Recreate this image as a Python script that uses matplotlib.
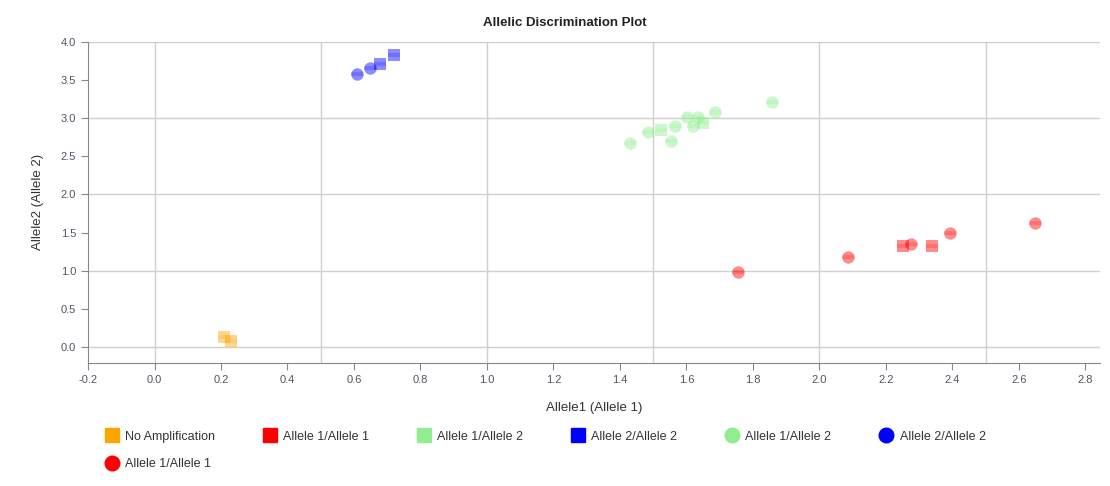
import matplotlib.pyplot as plt
from matplotlib.lines import Line2D
from matplotlib.ticker import MultipleLocator

plt.rcParams['font.family'] = ['Liberation Sans', 'DejaVu Sans']

# 蛍光値 (Allele1, Allele2)
no_amp_x = [0.21, 0.23]
no_amp_y = [0.13, 0.08]

a11_sq_x = [2.25, 2.34]
a11_sq_y = [1.32, 1.32]
a11_ci_x = [1.755, 2.087, 2.276, 2.394, 2.649]
a11_ci_y = [0.98, 1.18, 1.35, 1.50, 1.62]

a12_sq_x = [1.522, 1.650]
a12_sq_y = [2.85, 2.93]
a12_ci_x = [1.429, 1.484, 1.553, 1.566, 1.603, 1.620, 1.635, 1.686, 1.858]
a12_ci_y = [2.67, 2.82, 2.70, 2.90, 3.02, 2.89, 3.01, 3.08, 3.21]

a22_sq_x = [0.677, 0.719]
a22_sq_y = [3.71, 3.83]
a22_ci_x = [0.609, 0.649]
a22_ci_y = [3.58, 3.66]

legend_labels = ["No Amplification", "Allele 1/Allele 1", "Allele 1/Allele 2",
                 "Allele 2/Allele 2", "Allele 1/Allele 2", "Allele 2/Allele 2",
                 "Allele 1/Allele 1"]

orange = "#FFA500"
red = "#FF0000"
green = "#90EE90"
blue = "#0000FF"

fig = plt.figure(figsize=(11.1, 4.86), dpi=100)
ax = fig.add_axes([0.0793, 0.253, 0.912, 0.661])


def draw(x, y, color, marker):
    ax.scatter(x, y, s=80, marker=marker, color=color, alpha=0.45, linewidths=0, zorder=3)
    # 真ん中の濃い帯
    ax.scatter(x, y, s=70, marker="_", color=color, alpha=0.2, linewidths=3, zorder=4)


draw(no_amp_x, no_amp_y, orange, "s")
draw(a11_sq_x, a11_sq_y, red, "s")
draw(a11_ci_x, a11_ci_y, red, "o")
draw(a12_sq_x, a12_sq_y, green, "s")
draw(a12_ci_x, a12_ci_y, green, "o")
draw(a22_sq_x, a22_sq_y, blue, "s")
draw(a22_ci_x, a22_ci_y, blue, "o")

ax.set_xlim(-0.2, 2.845)
ax.set_ylim(-0.21, 4.0)
ax.xaxis.set_major_locator(MultipleLocator(0.2))
ax.yaxis.set_major_locator(MultipleLocator(0.5))
ax.xaxis.set_minor_locator(MultipleLocator(0.5))
ax.yaxis.set_minor_locator(MultipleLocator(1.0))
# 目盛りと重なるグリッドも消さない
ax.xaxis.remove_overlapping_locs = False
ax.yaxis.remove_overlapping_locs = False
ax.grid(which="minor", color="#d0d0d0", linewidth=1)
ax.grid(which="major", visible=False)
ax.set_axisbelow(True)
ax.tick_params(which="minor", length=0)
ax.tick_params(which="major", length=5, color="#888888", labelcolor="#505563",
               labelsize=8, direction="out")
ax.xaxis.set_major_formatter(lambda v, p: f"{v:.1f}")
ax.yaxis.set_major_formatter(lambda v, p: f"{v:.1f}")

for s in ["top", "right"]:
    ax.spines[s].set_visible(False)
for s in ["left", "bottom"]:
    ax.spines[s].set_color("#888888")

ax.set_xlabel("Allele1 (Allele 1)", fontsize=9.5, color="#333333", labelpad=12)
ax.set_ylabel("Allele2 (Allele 2)", fontsize=9.5, color="#333333", labelpad=12)
fig.text(0.509, 0.952, "Allelic Discrimination Plot", ha="center", va="center",
         fontsize=9.5, fontweight="bold", color="#222222")

handle_styles = [(orange, "s"), (red, "s"), (green, "s"), (blue, "s"),
                 (green, "o"), (blue, "o"), (red, "o")]
handles = [Line2D([], [], linestyle="none", marker=m, color=c, markersize=10.5)
           for c, m in handle_styles]
# 横に並べたいので列ごとの順番に入れ替える
order = [0, 6, 1, 2, 3, 4, 5]
fig.legend([handles[i] for i in order], [legend_labels[i] for i in order],
           loc="upper left", bbox_to_anchor=(0.0855, 0.137),
           ncol=6, frameon=False, fontsize=9, labelcolor="#333333",
           handlelength=0.9, handletextpad=0.6, columnspacing=3.95, labelspacing=1.25)

fig.savefig("out.png", dpi=100)
